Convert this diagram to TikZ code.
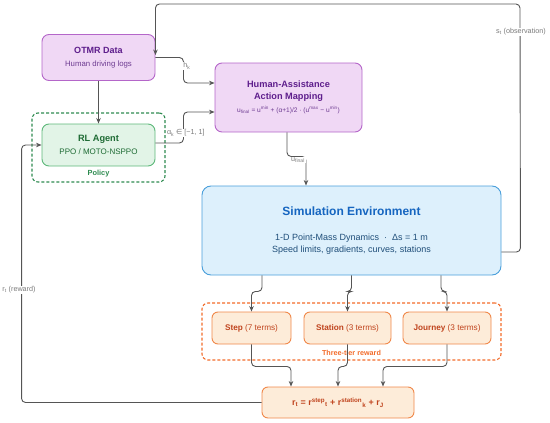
\documentclass[tikz,border=0pt]{standalone}
\usepackage{fontspec}
\setmainfont{Liberation Sans}
\newfontfamily\symfont{DejaVu Sans}
\usetikzlibrary{arrows.meta,calc}
\definecolor{purpfill}{HTML}{F0D8F5}
\definecolor{purpdraw}{HTML}{B466C9}
\definecolor{purptext}{HTML}{5E1E8C}
\definecolor{purpsub}{HTML}{6E3C92}
\definecolor{grnfill}{HTML}{E2F4E7}
\definecolor{grndraw}{HTML}{5DB87A}
\definecolor{grntext}{HTML}{1E6B34}
\definecolor{grndash}{HTML}{2E8B50}
\definecolor{bluefill}{HTML}{DDF0FC}
\definecolor{bluedraw}{HTML}{4A9FDB}
\definecolor{bluetitle}{HTML}{1565C0}
\definecolor{bluetext}{HTML}{1F4E79}
\definecolor{orfill}{HTML}{FDECD9}
\definecolor{ordraw}{HTML}{F0884A}
\definecolor{ortext}{HTML}{C0441E}
\definecolor{ordash}{HTML}{F26B2A}
\definecolor{conncol}{HTML}{555555}
\definecolor{lblcol}{HTML}{7A7A7A}
\newcommand{\ttlfont}[1]{\fontsize{#1}{#1}\bfseries\selectfont}
\newcommand{\subfont}[1]{\fontsize{#1}{#1}\mdseries\selectfont}
\tikzset{
  box/.style={draw, line width=0.9pt, rounded corners=7pt, align=center, inner sep=2pt},
  purpbox/.style={box, fill=purpfill, draw=purpdraw},
  grnbox/.style={box, fill=grnfill, draw=grndraw},
  bluebox/.style={box, fill=bluefill, draw=bluedraw, rounded corners=9pt},
  orbox/.style={box, fill=orfill, draw=ordraw, rounded corners=6pt},
  grp/.style={draw, dashed, line width=1.1pt, rounded corners=6pt, dash pattern=on 3pt off 2pt},
  conn/.style={draw=conncol, line width=0.9pt, rounded corners=4pt, -{Stealth[length=5.5pt,width=4.5pt]}},
  lbl/.style={fill=white, inner sep=0.8pt, text=lblcol, font=\fontsize{7.2}{8}\selectfont},
}
\begin{document}
\begin{tikzpicture}[x=1pt,y=-1pt]
\useasboundingbox (0,0) rectangle (550,423);
% groups
\node[grp, draw=grndash, minimum width=133pt, minimum height=69pt] (policy) at (98.5,147.5) {};
\node[text=grndash, font=\ttlfont{7.4}] (policylbl) at (98.5,174) {Policy};
\node[grp, draw=ordash, minimum width=299pt, minimum height=57pt] (tier) at (351.5,331.5) {};
\node[text=ordash, font=\ttlfont{7.2}] (tierlbl) at (351.5,353) {Three-tier reward};
% boxes
\node[purpbox, minimum width=113pt, minimum height=46pt] (otmr) at (98.5,57.5)
  {\color{purptext}\ttlfont{9}OTMR Data\\[1.5pt]
   \color{purpsub}\subfont{7.8}Human driving logs};
\node[grnbox, minimum width=113pt, minimum height=42pt] (rl) at (98.5,145)
  {\color{grntext}\ttlfont{9.2}RL Agent\\[1.5pt]
   \color{grntext}\subfont{8}PPO / MOTO-NSPPO};
\node[purpbox, minimum width=147pt, minimum height=69pt] (ha) at (288.5,97.5)
  {\color{purptext}\ttlfont{9.2}Human-Assistance\\[0pt]
   \color{purptext}\ttlfont{9.2}Action Mapping\\[1.5pt]
   \color{purpsub}\subfont{6.6}u\textsubscript{final} = u\textsuperscript{min} + (α+1)/2 · (u\textsuperscript{max} − u\textsuperscript{min})};
\node[bluebox, minimum width=299pt, minimum height=89pt] (sim) at (351.5,230.5)
  {\color{bluetitle}\ttlfont{12}Simulation Environment\\[13pt]
   \color{bluetext}\subfont{9}1-D Point-Mass Dynamics \ · \ Δs = 1 m\\[0.5pt]
   \color{bluetext}\subfont{9}Speed limits, gradients, curves, stations};
\node[orbox, minimum width=79pt, minimum height=32pt] (step) at (251.5,328)
  {\color{ortext}\subfont{8.2}\textbf{Step} (7 terms)};
\node[orbox, minimum width=87pt, minimum height=32pt] (station) at (347.5,328)
  {\color{ortext}\subfont{8.2}\textbf{Station} (3 terms)};
\node[orbox, minimum width=88pt, minimum height=32pt] (journey) at (447,328)
  {\color{ortext}\subfont{8.2}\textbf{Journey} (3 terms)};
\node[orbox, minimum width=152pt, minimum height=31pt] (final) at (338,402.5)
  {\color{ortext}\ttlfont{8.9}r\textsubscript{t} = r\textsuperscript{step}\textsubscript{t} + r\textsuperscript{station}\textsubscript{k} + r\textsubscript{J}};
% coordinates
\coordinate (obsend) at ([yshift=-21pt]otmr.north east);
\coordinate (obstop) at (520,4);
% connectors
\draw[conn] (otmr.south) -- (rl.north);
\draw[conn] (otmr.east) -- ++(28,0) |- ([yshift=14.5pt]ha.west);
\draw[conn] ([yshift=2pt]rl.east) -- ++(28,0) |- ([yshift=-14.5pt]ha.west);
\draw[conn] ([xshift=-1.5pt]ha.south) -- ++(0,24) -| ([xshift=-45.5pt]sim.north);
\draw[conn] ([yshift=-21.5pt]sim.east) -- ++(19,0) -- (obstop) -| (obsend);
\draw[conn] ([xshift=-89.5pt]sim.south) -- ++(0,16) -| (step.north);
\draw[conn] (sim.south) -- ++(0,16) -| (station.north);
\draw[conn] ([xshift=89.5pt]sim.south) -- ++(0,16) -| (journey.north);
\draw[conn] (step.south) -- ++(0,22) -| ([xshift=-47pt]final.north);
\draw[conn] (station.south) -- ++(0,22) -| (final.north);
\draw[conn] (journey.south) -- ++(0,22) -| ([xshift=45pt]final.north);
\draw[conn] (final.west) -- ++(-240,0) |- (rl.west);
% labels
\node[lbl] (hklbl) at (187,66) {h\textsubscript{k}};
\node[lbl, anchor=west] (albl) at (166,133) {α\textsubscript{k} {\symfont ∈} [−1, 1]};
\node[lbl] (ulbl) at (298,160) {u\textsubscript{final}};
\node[lbl] (slbl) at (521,32) {s\textsubscript{t} (observation)};
\node[lbl] (rlbl) at (19,290) {r\textsubscript{t} (reward)};
\end{tikzpicture}
\end{document}
